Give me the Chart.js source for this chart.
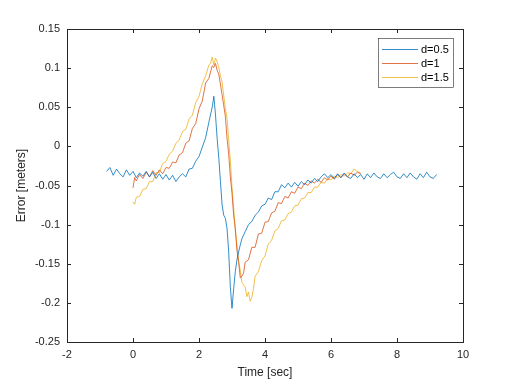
<!DOCTYPE html>
<html>
<head>
<meta charset="utf-8">
<script src="https://cdn.jsdelivr.net/npm/chart.js@4"></script>
<style>
  html, body { margin: 0; padding: 0; background: #fff; }
  #wrap { width: 512px; height: 384px; }
</style>
</head>
<body>
<div id="wrap"><canvas id="myChart" width="512" height="384"></canvas></div>
<script>
// data
const blueT = [-0.8,-0.7,-0.6,-0.5,-0.4,-0.3,-0.2,-0.1,0.0,0.1,0.2,0.3,0.4,0.5,0.6,0.7,0.8,0.9,1.0,1.1,1.2,1.3,1.4,1.5,1.6,1.7,1.8,1.9,2.0,2.1,2.2,2.3,2.4,2.45,2.5,2.55,2.6,2.65,2.7,2.75,2.8,2.85,2.9,2.95,3.0,3.05,3.1,3.15,3.2,3.25,3.3,3.4,3.5,3.6,3.7,3.8,3.9,4.0,4.1,4.2,4.3,4.4,4.5,4.6,4.7,4.8,4.9,5.0,5.1,5.2,5.3,5.4,5.5,5.6,5.7,5.8,5.9,6.0,6.1,6.2,6.3,6.4,6.5,6.6,6.7,6.8,6.9,7.0,7.1,7.2,7.3,7.4,7.5,7.6,7.7,7.8,7.9,8.0,8.1,8.2,8.3,8.4,8.5,8.6,8.7,8.8,8.9,9.0,9.1,9.2];
const blueE = [-0.032,-0.027,-0.037,-0.029,-0.035,-0.039,-0.030,-0.037,-0.032,-0.040,-0.034,-0.038,-0.032,-0.039,-0.033,-0.041,-0.035,-0.042,-0.036,-0.043,-0.037,-0.045,-0.039,-0.035,-0.039,-0.029,-0.028,-0.019,-0.013,-0.001,0.011,0.031,0.050,0.064,0.040,0.010,-0.015,-0.045,-0.075,-0.088,-0.092,-0.105,-0.135,-0.180,-0.207,-0.182,-0.160,-0.145,-0.135,-0.126,-0.118,-0.109,-0.100,-0.096,-0.088,-0.084,-0.076,-0.074,-0.066,-0.068,-0.058,-0.058,-0.049,-0.053,-0.047,-0.052,-0.046,-0.051,-0.045,-0.049,-0.043,-0.047,-0.041,-0.045,-0.039,-0.035,-0.040,-0.036,-0.041,-0.035,-0.040,-0.034,-0.039,-0.041,-0.035,-0.040,-0.036,-0.042,-0.035,-0.040,-0.034,-0.039,-0.041,-0.035,-0.040,-0.036,-0.033,-0.039,-0.041,-0.035,-0.040,-0.034,-0.039,-0.042,-0.035,-0.040,-0.033,-0.039,-0.041,-0.036,-0.040,-0.038];

const redT = [0.0,0.05,0.1,0.2,0.3,0.4,0.5,0.6,0.7,0.8,0.9,1.0,1.1,1.2,1.3,1.4,1.5,1.6,1.7,1.8,1.9,2.0,2.1,2.2,2.3,2.4,2.45,2.5,2.55,2.6,2.7,2.8,2.85,2.9,2.95,3.0,3.05,3.1,3.15,3.2,3.25,3.3,3.35,3.4,3.5,3.6,3.7,3.8,3.9,4.0,4.1,4.2,4.3,4.4,4.5,4.6,4.7,4.8,4.9,5.0,5.1,5.2,5.3,5.4,5.5,5.6,5.7,5.8,5.9,6.0,6.1,6.2,6.3,6.4,6.5,6.6,6.7,6.8,6.9];
const redE = [-0.053,-0.040,-0.044,-0.036,-0.041,-0.033,-0.039,-0.031,-0.037,-0.030,-0.035,-0.027,-0.028,-0.020,-0.021,-0.011,-0.008,0.004,0.007,0.023,0.029,0.048,0.058,0.081,0.087,0.103,0.101,0.106,0.097,0.092,0.066,0.038,0.010,-0.010,-0.039,-0.060,-0.088,-0.105,-0.133,-0.147,-0.168,-0.166,-0.162,-0.148,-0.145,-0.129,-0.129,-0.112,-0.111,-0.097,-0.096,-0.085,-0.083,-0.072,-0.073,-0.064,-0.066,-0.058,-0.060,-0.052,-0.054,-0.047,-0.050,-0.044,-0.047,-0.042,-0.046,-0.040,-0.043,-0.038,-0.042,-0.036,-0.040,-0.035,-0.039,-0.034,-0.037,-0.033,-0.035];

const yelT = [0.0,0.05,0.1,0.2,0.3,0.4,0.5,0.6,0.7,0.8,0.9,1.0,1.1,1.2,1.3,1.4,1.5,1.6,1.7,1.8,1.9,2.0,2.1,2.2,2.3,2.35,2.4,2.45,2.5,2.55,2.6,2.65,2.7,2.8,2.85,2.9,2.95,3.0,3.05,3.1,3.15,3.2,3.25,3.3,3.4,3.45,3.5,3.55,3.6,3.65,3.7,3.8,3.9,4.0,4.1,4.2,4.3,4.4,4.5,4.6,4.7,4.8,4.9,5.0,5.1,5.2,5.3,5.4,5.5,5.6,5.7,5.8,5.9,6.0,6.1,6.2,6.3,6.4,6.5,6.6,6.7,6.8,6.9];
const yelE = [-0.071,-0.074,-0.065,-0.064,-0.055,-0.054,-0.045,-0.045,-0.034,-0.033,-0.022,-0.019,-0.010,-0.006,0.004,0.008,0.019,0.022,0.035,0.040,0.056,0.064,0.080,0.090,0.104,0.106,0.114,0.104,0.113,0.108,0.101,0.090,0.082,0.048,0.036,0.008,-0.018,-0.052,-0.078,-0.107,-0.126,-0.147,-0.158,-0.174,-0.180,-0.192,-0.186,-0.198,-0.193,-0.182,-0.166,-0.160,-0.146,-0.140,-0.125,-0.120,-0.108,-0.105,-0.095,-0.094,-0.086,-0.084,-0.076,-0.075,-0.067,-0.066,-0.059,-0.059,-0.052,-0.052,-0.046,-0.047,-0.041,-0.043,-0.038,-0.040,-0.036,-0.038,-0.034,-0.035,-0.029,-0.032,-0.034];

const seriesNames = ['d=0.5', 'd=1', 'd=1.5'];
const seriesColors = ['rgba(0,114,189,0.8)', 'rgba(217,83,25,0.8)', 'rgba(237,177,32,0.8)'];
const xTicks = [-2, 0, 2, 4, 6, 8, 10];
const yTicks = [-0.25, -0.2, -0.15, -0.1, -0.05, 0, 0.05, 0.1, 0.15];

function toPoints(t, e) {
    return t.map(function(v, i) { return { x: v, y: e[i] }; });
}

const FONT = 'Liberation Sans, Arial, sans-serif';

// box, inward ticks, axis titles and legend, MATLAB style
const matlabAxes = {
    id: 'matlabAxes',
    beforeDraw: function(chart) {
        const c = chart.ctx;
        c.save();
        c.fillStyle = '#fff';
        c.fillRect(0, 0, chart.width, chart.height);
        c.restore();
    },
    afterDraw: function(chart) {
        const c = chart.ctx;
        const a = chart.chartArea;
        const xs = chart.scales.x, ys = chart.scales.y;
        c.save();
        c.strokeStyle = '#262626';
        c.lineWidth = 1;
        c.strokeRect(Math.round(a.left) + 0.5, Math.round(a.top) + 0.5, Math.round(a.right - a.left), Math.round(a.bottom - a.top));
        c.beginPath();
        xTicks.forEach(function(v) {
            const px = Math.round(xs.getPixelForValue(v)) + 0.5;
            c.moveTo(px, a.bottom); c.lineTo(px, a.bottom - 4);
            c.moveTo(px, a.top); c.lineTo(px, a.top + 4);
        });
        yTicks.forEach(function(v) {
            const py = Math.round(ys.getPixelForValue(v)) + 0.5;
            c.moveTo(a.left, py); c.lineTo(a.left + 4, py);
            c.moveTo(a.right, py); c.lineTo(a.right - 4, py);
        });
        c.stroke();

        // axis titles
        c.fillStyle = '#262626';
        c.font = '12px ' + FONT;
        c.textAlign = 'center';
        c.textBaseline = 'middle';
        c.fillText('Time [sec]', (a.left + a.right) / 2, 373);
        c.translate(22, (a.top + a.bottom) / 2);
        c.rotate(-Math.PI / 2);
        c.fillText('Error [meters]', 0, 0);
        c.setTransform(1, 0, 0, 1, 0, 0);

        // legend
        const lx = 378, ly = 38, lw = 75, lh = 49;
        c.fillStyle = '#fff';
        c.fillRect(lx, ly, lw, lh);
        c.strokeStyle = '#262626';
        c.lineWidth = 0.6;
        c.strokeRect(lx + 0.5, ly + 0.5, lw, lh);
        c.font = '11px ' + FONT;
        c.textAlign = 'left';
        chart.data.datasets.forEach(function(ds, i) {
            const yy = ly + 11 + i * 14;
            c.strokeStyle = ds.borderColor;
            c.lineWidth = 1;
            c.beginPath();
            c.moveTo(lx + 4, yy + 0.5); c.lineTo(lx + 40, yy + 0.5);
            c.stroke();
            c.fillStyle = '#000';
            c.fillText(ds.label, lx + 43, yy + 1);
        });
        c.restore();
    }
};

const ctx = document.getElementById('myChart').getContext('2d');
new Chart(ctx, {
    type: 'scatter',
    data: {
        datasets: [
            { label: seriesNames[0], data: toPoints(blueT, blueE), borderColor: seriesColors[0] },
            { label: seriesNames[1], data: toPoints(redT, redE), borderColor: seriesColors[1] },
            { label: seriesNames[2], data: toPoints(yelT, yelE), borderColor: seriesColors[2] }
        ].map(function(d) {
            d.showLine = true;
            d.borderWidth = 1;
            d.pointRadius = 0;
            d.tension = 0;
            d.fill = false;
            return d;
        })
    },
    options: {
        responsive: false,
        animation: false,
        events: [],
        layout: { padding: { left: 0, top: 29, right: 49, bottom: 0 } },
        plugins: {
            legend: { display: false },
            tooltip: { enabled: false }
        },
        scales: {
            x: {
                type: 'linear',
                min: -2, max: 10,
                afterFit: function(s) { s.height = 42; },
                afterBuildTicks: function(s) { s.ticks = xTicks.map(function(v) { return { value: v }; }); },
                grid: { display: false, drawTicks: false },
                border: { display: false },
                ticks: { padding: 6, color: '#262626', font: { family: FONT, size: 11 }, maxRotation: 0 }
            },
            y: {
                type: 'linear',
                min: -0.25, max: 0.15,
                afterFit: function(s) { s.width = 67; },
                afterBuildTicks: function(s) { s.ticks = yTicks.map(function(v) { return { value: v }; }); },
                grid: { display: false, drawTicks: false },
                border: { display: false },
                ticks: {
                    padding: 7, color: '#262626', font: { family: FONT, size: 11 },
                    callback: function(v) { return String(Number(v.toFixed(2))); }
                }
            }
        }
    },
    plugins: [matlabAxes]
});
</script>
</body>
</html>
